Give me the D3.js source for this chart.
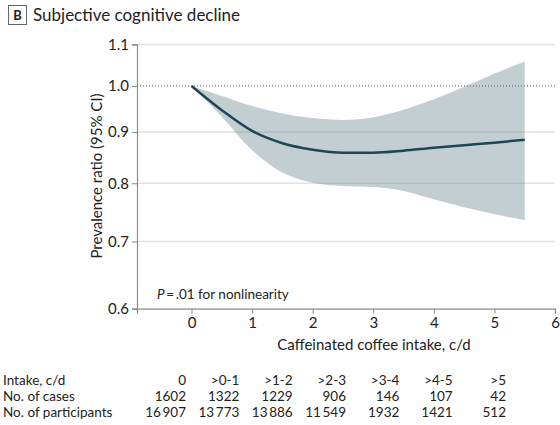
<!DOCTYPE html>
<html>
<head>
<meta charset="utf-8">
<script src="https://cdn.jsdelivr.net/npm/d3@7"></script>
<style>
  body { margin: 0; background: #fff; }
  svg { font-family: Lato, "Open Sans", sans-serif; }
</style>
</head>
<body>
<div id="root"></div>
<script>
// Spline estimate and 95% CI
const intakeX = [0, 0.5, 1, 1.5, 2, 2.5, 3, 3.5, 4, 4.5, 5, 5.5];
const ratioEst = [1.0, 0.946, 0.902, 0.877, 0.864, 0.858, 0.858, 0.862, 0.868, 0.873, 0.878, 0.884];
const ciLower = [1.0, 0.932, 0.863, 0.820, 0.801, 0.795, 0.793, 0.786, 0.771, 0.757, 0.745, 0.735];
const ciUpper = [1.0, 0.977, 0.955, 0.939, 0.929, 0.925, 0.931, 0.947, 0.970, 0.998, 1.029, 1.058];

const yTicks = [0.6, 0.7, 0.8, 0.9, 1.0, 1.1];
const xTicks = [0, 1, 2, 3, 4, 5, 6];

// Table under the chart
const rowLabels = ["Intake, c/d", "No. of cases", "No. of participants"];
const intakeLabels = ["0", ">0-1", ">1-2", ">2-3", ">3-4", ">4-5", ">5"];
const caseCounts = [1602, 1322, 1229, 906, 146, 107, 42];
const participantCounts = [16907, 13773, 13886, 11549, 1932, 1421, 512];

function drawChart() {
  const width = 560;
  const height = 425;

  const svg = d3
    .select("#root")
    .append("svg")
    .attr("width", width)
    .attr("height", height);

  // Panel label + title
  svg
    .append("rect")
    .attr("x", 8.5)
    .attr("y", 5.5)
    .attr("width", 18)
    .attr("height", 19)
    .attr("fill", "#fff")
    .attr("stroke", "#666");
  svg
    .append("text")
    .attr("x", 17.5)
    .attr("y", 20)
    .attr("text-anchor", "middle")
    .style("font-size", "13px")
    .style("font-weight", "bold")
    .style("fill", "#222")
    .text("B");
  svg
    .append("text")
    .attr("x", 33)
    .attr("y", 20.5)
    .style("font-size", "17px")
    .style("fill", "#222")
    .text("Subjective cognitive decline");

  // Scales
  const xScale = d3.scaleLinear().domain([-0.9, 6]).range([137, 555]);
  const yScale = d3.scaleLog().domain([0.6, 1.1]).range([308.7, 44.4]);

  // Gridlines
  svg
    .append("g")
    .selectAll("line")
    .data(yTicks.filter((t) => t !== 0.6 && t !== 1.0))
    .join("line")
    .attr("x1", xScale(-0.9))
    .attr("x2", xScale(6))
    .attr("y1", (d) => yScale(d))
    .attr("y2", (d) => yScale(d))
    .attr("stroke", "#e2e2e2")
    .attr("stroke-width", 1.5);

  // Reference line at 1.0
  svg
    .append("line")
    .attr("x1", xScale(-0.9))
    .attr("x2", xScale(6))
    .attr("y1", yScale(1.0))
    .attr("y2", yScale(1.0))
    .attr("stroke", "#555")
    .attr("stroke-width", 1)
    .attr("stroke-dasharray", "1,2");

  // Confidence band
  const pts = intakeX.map((x, i) => ({
    x,
    est: ratioEst[i],
    lo: ciLower[i],
    hi: ciUpper[i],
  }));

  const area = d3
    .area()
    .x((d) => xScale(d.x))
    .y0((d) => yScale(d.lo))
    .y1((d) => yScale(d.hi))
    .curve(d3.curveMonotoneX);

  svg
    .append("path")
    .datum(pts)
    .attr("d", area)
    .attr("fill", "#5f7f8a")
    .attr("fill-opacity", 0.38);

  const line = d3
    .line()
    .x((d) => xScale(d.x))
    .y((d) => yScale(d.est))
    .curve(d3.curveMonotoneX);

  svg
    .append("path")
    .datum(pts)
    .attr("d", line)
    .attr("fill", "none")
    .attr("stroke", "#1c4754")
    .attr("stroke-width", 2.5);

  // Axes
  const yAxis = d3
    .axisLeft(yScale)
    .tickValues(yTicks)
    .tickFormat(d3.format(".1f"))
    .tickSize(5)
    .tickPadding(3);
  const yAxisG = svg
    .append("g")
    .attr("transform", `translate(${xScale(-0.9)},0)`)
    .call(yAxis);

  const xAxis = d3
    .axisBottom(xScale)
    .tickValues(xTicks)
    .tickFormat(d3.format("d"))
    .tickSize(5)
    .tickPadding(4);
  const xAxisG = svg
    .append("g")
    .attr("transform", `translate(0,${yScale(0.6)})`)
    .call(xAxis);

  [yAxisG, xAxisG].forEach((g) => {
    g.select(".domain").attr("stroke", "#8a8a8a").attr("stroke-width", 1.2);
    g.selectAll(".tick line").attr("stroke", "#8a8a8a");
    g.selectAll(".tick text")
      .style("font-size", "15px")
      .style("font-family", "Lato, sans-serif")
      .attr("fill", "#222");
  });

  // Axis titles
  svg
    .append("text")
    .attr("transform", "rotate(-90)")
    .attr("x", -176)
    .attr("y", 102)
    .attr("text-anchor", "middle")
    .style("font-size", "15px")
    .style("fill", "#222")
    .text("Prevalence ratio (95% CI)");

  svg
    .append("text")
    .attr("x", 374)
    .attr("y", 350)
    .attr("text-anchor", "middle")
    .style("font-size", "15px")
    .style("fill", "#222")
    .text("Caffeinated coffee intake, c/d");

  // Nonlinearity note
  const note = svg
    .append("text")
    .attr("x", 157)
    .attr("y", 299)
    .style("font-size", "13.5px")
    .style("fill", "#222");
  note.append("tspan").style("font-style", "italic").text("P");
  note.append("tspan").text("\u2009=\u2009.01 for nonlinearity");

  // Table
  const colScale = d3.scaleLinear().domain([0, 6]).range([186, 506]);
  const rowY = [385, 401, 417];
  const fmt = (n) => (n >= 10000 ? d3.format(",")(n).replace(",", "\u2009") : String(n));
  const rows = [intakeLabels, caseCounts.map(fmt), participantCounts.map(fmt)];

  const table = svg.append("g").style("font-size", "13.5px").style("fill", "#222");

  rowLabels.forEach((label, r) => {
    table
      .append("text")
      .attr("x", 3)
      .attr("y", rowY[r])
      .text(label);

    table
      .selectAll(null)
      .data(rows[r])
      .join("text")
      .attr("x", (d, i) => colScale(i))
      .attr("y", rowY[r])
      .attr("text-anchor", "end")
      .text((d) => d);
  });
}

drawChart();
</script>
</body>
</html>
